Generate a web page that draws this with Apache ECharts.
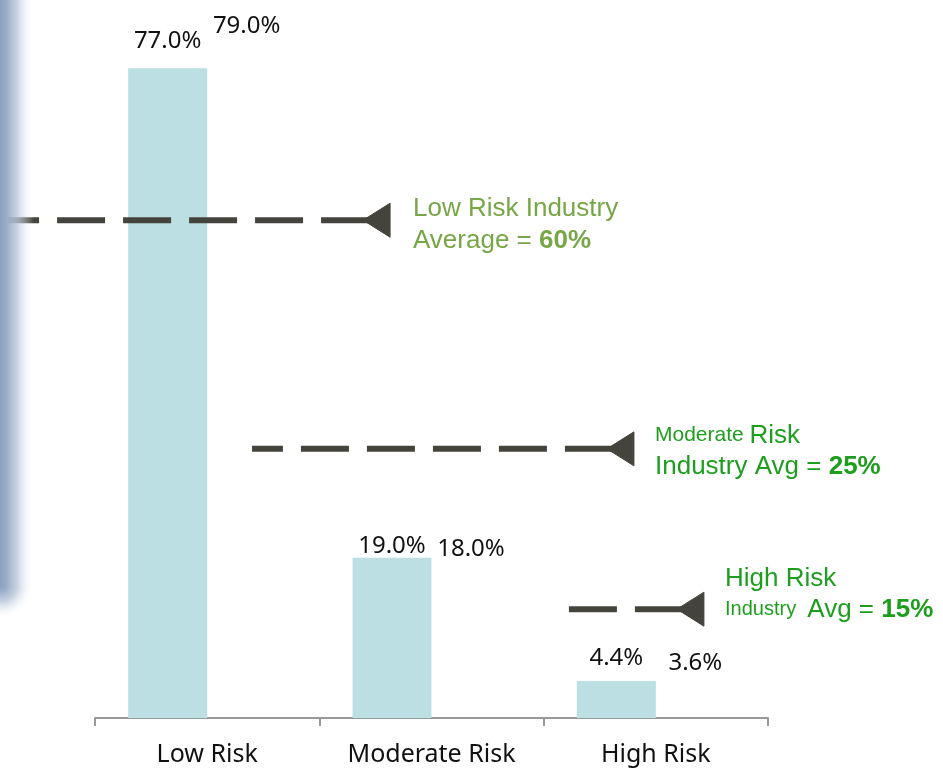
<!DOCTYPE html>
<html><head><meta charset="utf-8">
<script src="https://cdn.jsdelivr.net/npm/echarts@6/dist/echarts.min.js"></script>
<style>html,body{margin:0;padding:0;background:#fff}#c{width:943px;height:769px}</style>
</head><body><div id="c"></div><script>
const categories = ['Low Risk', 'Moderate Risk', 'High Risk'];
const seriesA = [77.0, 19.0, 4.4];
const seriesB = [79.0, 18.0, 3.6];
// industry-average pointer lines (x in category units, level in %)
const avgLineStart = [-0.92, 0.20, 1.60];
const avgLineTip = [0.695, 1.782, 2.094];
const avgLineLevel = [59.0, 31.9, 12.9];

// label distances (style)
const distA = [15, 0, 11];
const distB = [13, 5, 12];

const chart = echarts.init(document.getElementById('c'), null, {renderer: 'canvas'});
const labelFont = {fontFamily: 'Noto Sans', fontSize: 24, color: '#111111'};
const green1 = '#77a646', green2 = '#1e9e1e';
const edgeStops = [
  {offset: 0, color: '#8a9fbe'},
  {offset: 0.2, color: '#9bafc9'},
  {offset: 0.5, color: 'rgba(185,199,219,0.8)'},
  {offset: 1, color: 'rgba(255,255,255,0)'}
];

const option = {
  animation: false,
  backgroundColor: '#ffffff',
  grid: {left: 95, right: 175, top: 43, bottom: 51},
  xAxis: [
    {type: 'category', data: categories, boundaryGap: true,
     axisLine: {lineStyle: {color: '#999999', width: 2}},
     axisTick: {show: true, length: 8, lineStyle: {color: '#999999', width: 2}},
     axisLabel: {fontFamily: 'Noto Sans', fontSize: 25, color: '#111111', margin: 24}},
    {type: 'value', min: -0.5, max: 2.5, show: false}
  ],
  yAxis: {type: 'value', min: 0, max: 80, show: false},
  series: [
    {type: 'bar', name: 'A', barWidth: 79, barGap: '0%',
     itemStyle: {color: '#bbdfe2'},
     data: seriesA.map((v, i) => ({value: v, label: {distance: distA[i]}})),
     label: Object.assign({show: true, position: 'top', formatter: p => p.value.toFixed(1) + '%'}, labelFont)},
    {type: 'bar', name: 'B', barWidth: 79, barGap: '0%',
     itemStyle: {color: 'rgba(255,255,255,0)'},
     data: seriesB.map((v, i) => ({value: v, label: {distance: distB[i]}})),
     label: Object.assign({show: true, position: 'top', formatter: p => p.value.toFixed(1) + '%'}, labelFont)},
    {type: 'custom', xAxisIndex: 1, yAxisIndex: 0, clip: false, z: 5,
     encode: {x: [0, 1], y: 2},
     data: avgLineStart.map((s, i) => [s, avgLineTip[i], avgLineLevel[i]]),
     renderItem: function (params, api) {
       const tip = api.coord([api.value(1), api.value(2)]);
       const start = api.coord([api.value(0), api.value(2)]);
       return {type: 'group', children: [
         {type: 'line', shape: {x1: tip[0] + 6, y1: tip[1], x2: start[0], y2: start[1]},
          style: {stroke: '#45443c', lineWidth: 6, lineDash: [48, 18]}},
         {type: 'polygon', shape: {points: [[tip[0], tip[1]], [tip[0] + 27, tip[1] - 17], [tip[0] + 27, tip[1] + 17]]},
          style: {fill: '#45443c', stroke: '#45443c', lineWidth: 1, lineJoin: 'round'}}
       ]};
     }}
  ],
  graphic: [
    {type: 'rect', z: 100, silent: true,
     shape: {x: 0, y: 0, width: 34, height: 585},
     style: {fill: {type: 'linear', x: 0, y: 0, x2: 1, y2: 0, colorStops: edgeStops}}},
    {type: 'rect', z: 100, silent: true,
     shape: {x: 0, y: 585, width: 34, height: 34},
     style: {fill: {type: 'radial', x: 0, y: 0, r: 1, colorStops: edgeStops}}},
    {type: 'text', x: 413, y: 193, style: {
      text: '{a|Low Risk Industry}\n{a|Average = }{b|60%}',
      rich: {
        a: {fontFamily: 'Liberation Sans', fontSize: 26, fill: green1, lineHeight: 32},
        b: {fontFamily: 'Liberation Sans', fontSize: 26, fontWeight: 'bold', fill: green1, lineHeight: 32}
      }}},
    {type: 'text', x: 655, y: 420, style: {
      text: '{s|Moderate }{a|Risk}\n{a|Industry Avg = }{b|25%}',
      rich: {
        s: {fontFamily: 'Liberation Sans', fontSize: 21, fill: green2, lineHeight: 31},
        a: {fontFamily: 'Liberation Sans', fontSize: 26, fill: green2, lineHeight: 31},
        b: {fontFamily: 'Liberation Sans', fontSize: 26, fontWeight: 'bold', fill: green2, lineHeight: 31}
      }}},
    {type: 'text', x: 725, y: 563, style: {
      text: '{a|High Risk}\n{s|Industry  }{a|Avg = }{b|15%}',
      rich: {
        s: {fontFamily: 'Liberation Sans', fontSize: 20, fill: green2, lineHeight: 31},
        a: {fontFamily: 'Liberation Sans', fontSize: 26, fill: green2, lineHeight: 31},
        b: {fontFamily: 'Liberation Sans', fontSize: 26, fontWeight: 'bold', fill: green2, lineHeight: 31}
      }}}
  ]
};
chart.setOption(option);
</script></body></html>
